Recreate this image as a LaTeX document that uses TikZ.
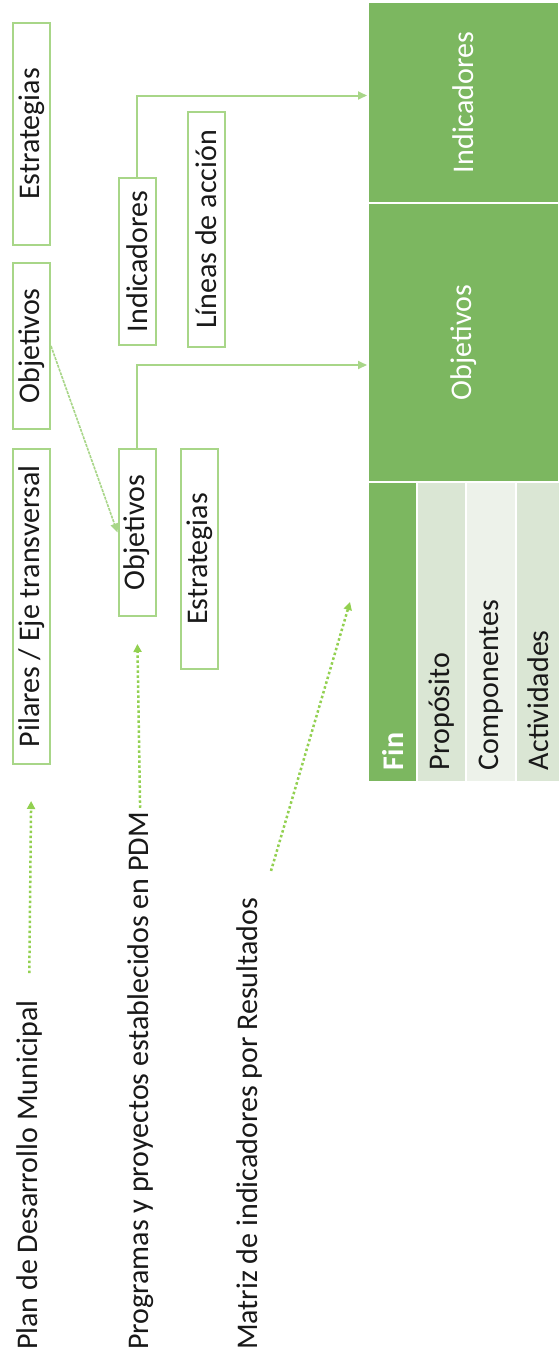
\documentclass[tikz,border=0pt]{standalone}
\usepackage{fontspec}
\setmainfont{Carlito}
\usepackage{xcolor}
\usepackage{tikz}
\usetikzlibrary{arrows.meta, calc}
\definecolor{leafgreen}{RGB}{124,183,96}
\definecolor{palegreen}{RGB}{218,230,212}
\definecolor{mistgreen}{RGB}{237,242,234}
\definecolor{linegreen}{RGB}{168,214,136}
\definecolor{dotgreen}{RGB}{146,208,80}
\definecolor{inkgray}{RGB}{25,25,25}

\begin{document}
\begin{tikzpicture}[x=1pt, y=-1pt,
        font=\fontsize{30}{36}\selectfont,
        % Styles
        sidetext/.style={rotate=90, anchor=base west, inner sep=0pt, text=inkgray},
        box/.style={rectangle, draw=linegreen, line width=2pt, fill=white, rotate=90,
                    minimum height=37pt, inner sep=0pt, text=inkgray},
        cell/.style={rectangle, draw=white, fill=leafgreen, line width=2pt, rotate=90,
                     minimum height=191pt, inner sep=0pt, text=white},
        row/.style={rectangle, draw=white, line width=2pt, rotate=90, minimum width=300pt,
                    text width=276pt, inner xsep=12pt, inner ysep=0pt, align=left, text=inkgray},
        dotarrow/.style={-{Triangle[length=8pt, width=8pt]}, dotgreen, line width=2.5pt,
                         dash pattern=on 2.5pt off 2.5pt},
        link/.style={-{Triangle[length=9pt, width=8pt]}, linegreen, line width=2pt},
        slantlink/.style={-{Triangle[length=9pt, width=8pt]}, linegreen, line width=1.6pt,
                          dash pattern=on 3pt off 1pt},
    ]

    \fill[white] (0,0) rectangle (559,1365);
    \useasboundingbox (0,0) rectangle (559,1365);

    % Source documents (left)
    \node[sidetext] (plan) at (37,1350) {Plan de Desarrollo Municipal};
    \node[sidetext] (prog) at (148,1350) {Programas y proyectos establecidos en PDM};
    \node[sidetext] (matriz) at (257,1350) {Matriz de indicadores por Resultados};

    % PDM boxes
    \node[box, minimum width=222pt] (estr1) at (31.5,134) {Estrategias};
    \node[box, minimum width=166pt] (obj1) at (31.5,346) {Objetivos};
    \node[box, minimum width=315pt] (pilares) at (31.5,606.5) {Pilares / Eje transversal};

    % Program boxes
    \node[box, minimum width=167pt] (ind2) at (137,261.5) {Indicadores};
    \node[box, minimum width=167pt] (obj2) at (137,532.5) {Objetivos};
    \node[box, minimum width=235pt] (lineas) at (206.5,229.5) {Líneas de acción};
    \node[box, minimum width=220pt] (estr2) at (199.5,559) {Estrategias};

    % Results matrix (right)
    \node[cell, minimum width=201pt] (indcell) at (463.5,102.5) {Indicadores};
    \node[cell, minimum width=279pt] (objcell) at (463.5,342.5) {Objetivos};
    \node[row, fill=leafgreen, text=white, minimum height=49pt] (fin) at (392.5,632) {\bfseries Fin};
    \node[row, fill=palegreen, minimum height=49pt] (proposito) at (441.5,632) {Propósito};
    \node[row, fill=mistgreen, minimum height=50pt] (componentes) at (491,632) {Componentes};
    \node[row, fill=palegreen, minimum height=45pt] (actividades) at (538.5,632) {Actividades};

    % Arrows
    \draw[dotarrow, shorten <=27pt, shorten >=36pt] (plan.east) -- (pilares.west);
    \draw[dotarrow, shorten <=4pt, shorten >=27pt] (prog.east) -- (obj2.west);
    \coordinate (mirtip) at (350,602);
    \draw[dotarrow] ($(matriz.east)+(22,-27)$) -- (mirtip);
    \draw[slantlink] (obj1.south) -- (obj2.north);
    \draw[link] (obj2.east) |- ([yshift=-22.5pt]objcell.north);
    \draw[link] (ind2.east) |- ([yshift=7pt]indcell.north);

\end{tikzpicture}
\end{document}
